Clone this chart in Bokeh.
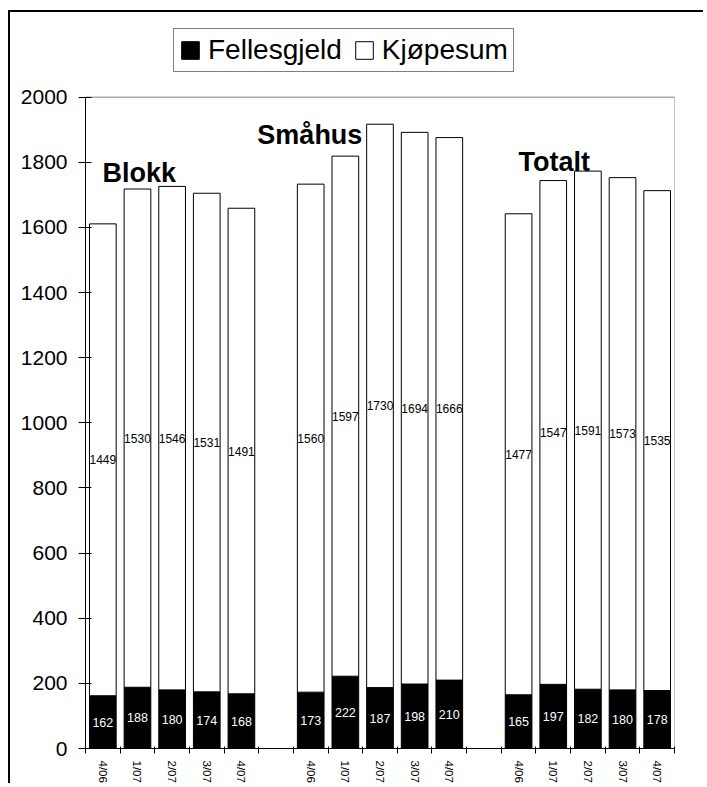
import math
from bokeh.plotting import figure
from bokeh.models import ColumnDataSource, Range1d, FixedTicker, Label
from bokeh.core.properties import value
from bokeh.embed import file_html
from bokeh.resources import INLINE

# ---- data ----
groups = ["Blokk", "Småhus", "Totalt"]
periods = ["4/06", "1/07", "2/07", "3/07", "4/07"]
fellesgjeld_blokk = [162, 188, 180, 174, 168]
kjopesum_blokk = [1449, 1530, 1546, 1531, 1491]
fellesgjeld_smahus = [173, 222, 187, 198, 210]
kjopesum_smahus = [1560, 1597, 1730, 1694, 1666]
fellesgjeld_totalt = [165, 197, 182, 180, 178]
kjopesum_totalt = [1477, 1547, 1591, 1573, 1535]
y_ticks = [0, 200, 400, 600, 800, 1000, 1200, 1400, 1600, 1800, 2000]
series_names = ["Fellesgjeld", "Kjøpesum"]

FONT = "Liberation Sans"

fell = fellesgjeld_blokk + fellesgjeld_smahus + fellesgjeld_totalt
kjop = kjopesum_blokk + kjopesum_smahus + kjopesum_totalt
n_per = len(periods)
xs, labels = [], []
for g in range(len(groups)):
    for i in range(n_per):
        xs.append(g * (n_per + 1) + i + 0.5)
        labels.append(periods[i])
n_slots = len(groups) * (n_per + 1) - 1

# layout (pixels)
W, H = 695, 773
B_LEFT, B_TOP, B_RIGHT, B_BOTTOM = 75, 10, 31, 34
PLOT_H = 654           # pixel height of the 0..2000 value area
EXTRA_TOP = H - B_TOP - B_BOTTOM - PLOT_H   # room above 2000 for legend
y_top = y_ticks[-1]
y_max = y_top * (PLOT_H + EXTRA_TOP) / PLOT_H

src = ColumnDataSource(dict(
    x=xs, f=fell, k=kjop,
    f_mid=[v / 2 for v in fell],
    k_mid=[a + b / 2 for a, b in zip(fell, kjop)],
    f_txt=[str(v) for v in fell],
    k_txt=[str(v) for v in kjop],
))

p = figure(width=W, height=H, output_backend="svg", toolbar_location=None,
           x_range=Range1d(0, n_slots), y_range=Range1d(0, y_max),
           min_border_left=B_LEFT, min_border_top=B_TOP,
           min_border_right=B_RIGHT, min_border_bottom=B_BOTTOM)
p.styles = {"margin-left": "8px", "margin-top": "10px",
            "border-left": "2px solid black", "border-top": "2px solid black"}
p.outline_line_color = None
p.xgrid.visible = False
p.ygrid.visible = False

# plot-area border (top and right, grey)
p.line(x=[0, n_slots, n_slots], y=[y_top, y_top, 0], line_color="#808080",
       line_width=1)

p.vbar_stack(["f", "k"], x="x", width=0.77, source=src,
             fill_color=["black", "white"], line_color="black", line_width=1,
             legend_label=series_names)

p.text(x="x", y="f_mid", text="f_txt", source=src, text_color="white",
       text_font=value(FONT), text_font_size="12.5px",
       text_align="center", text_baseline="middle")
p.text(x="x", y="k_mid", text="k_txt", source=src, text_color="black",
       text_font=value(FONT), text_font_size="12px",
       text_align="center", text_baseline="middle")

# group titles
for name, gx, gy in zip(groups, [0.49, 4.96, 12.5], [1767, 1884, 1801]):
    p.add_layout(Label(x=gx, y=gy, text=name, text_font=FONT,
                       text_font_size="27px", text_font_style="bold",
                       text_color="black", text_align="left",
                       text_baseline="alphabetic"))

# y axis
yax = p.yaxis[0]
yax.bounds = (0, y_top)
yax.ticker = FixedTicker(ticks=y_ticks)
yax.major_label_text_font = FONT
yax.major_label_text_font_size = "21px"
yax.major_label_text_color = "black"
yax.major_tick_out = 7
yax.major_tick_in = 6
yax.minor_tick_line_color = None
yax.major_label_standoff = 11
yax.axis_line_color = "black"
yax.major_tick_line_color = "black"

# x axis
xax = p.xaxis[0]
xax.ticker = FixedTicker(ticks=xs, minor_ticks=list(range(n_slots + 1)))
xax.major_label_overrides = {x: l for x, l in zip(xs, labels)}
xax.major_label_orientation = -math.pi / 2
xax.major_label_text_font = FONT
xax.major_label_text_font_size = "11.5px"
xax.major_label_text_color = "black"
xax.major_tick_out = 0
xax.major_tick_in = 0
xax.minor_tick_out = 5
xax.minor_tick_in = 2
xax.minor_tick_line_color = "black"
xax.major_label_standoff = 7
xax.axis_line_color = "black"

# legend
lg = p.legend[0]
lg.orientation = "horizontal"
lg.location = (88, 676)
lg.border_line_color = "black"
lg.border_line_width = 1
lg.background_fill_color = "white"
lg.background_fill_alpha = 1
lg.label_text_font = FONT
lg.label_text_font_size = "28px"
lg.label_text_color = "black"
lg.glyph_width = 22
lg.glyph_height = 22
lg.label_standoff = 7
lg.spacing = 11
lg.padding = 5
lg.margin = 0

open("out.html", "w").write(file_html(p, INLINE))
